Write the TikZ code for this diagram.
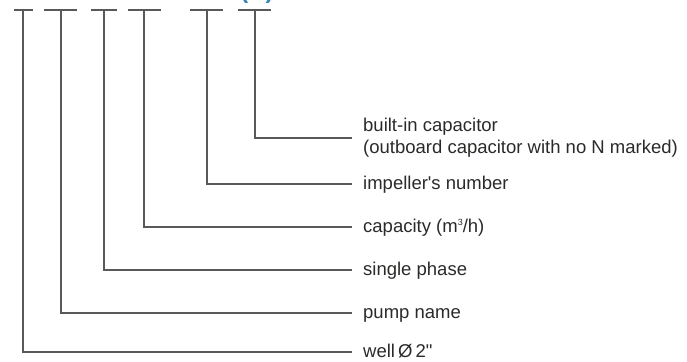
\documentclass[tikz,border=0pt]{standalone}
\usepackage{fontspec}
\setmainfont{Liberation Sans}[Ligatures=TeXOff]
\definecolor{linegray}{HTML}{5A5858}
\definecolor{textgray}{HTML}{2B2A29}
\definecolor{codeblue}{HTML}{3A86AE}
\newcommand{\smallsup}[1]{\raisebox{6.5bp}{\fontsize{9bp}{9bp}\selectfont #1}}
\tikzset{
        lbl/.style={anchor=west, inner xsep=11bp, inner ysep=0pt, text=textgray, font=\fontsize{18.5bp}{22bp}\selectfont, align=left},
        row/.style={lbl, text height=13bp, text depth=3bp},
        bar/.style={draw=linegray, line width=1.1bp},
        lead/.style={draw=linegray, line width=1.1bp}
    }

\begin{document}
\begin{tikzpicture}[x=1bp, y=-1bp]
            \useasboundingbox (0,0) rectangle (687,361);
            \clip (0,0) rectangle (687,361);
            \node [text=codeblue, font=\bfseries\fontsize{24bp}{24bp}\selectfont, anchor=base] (code) at (257,-2) {(N)};

            \coordinate (t1) at (23, 10);
            \coordinate (t2) at (61, 10);
            \coordinate (t3) at (104, 10);
            \coordinate (t4) at (144, 10);
            \coordinate (t5) at (207, 10);
            \coordinate (t6) at (255, 10);

            \draw [bar] (14, 10) -- (33, 10);
            \draw [bar] (44, 10) -- (77, 10);
            \draw [bar] (91, 10) -- (117, 10);
            \draw [bar] (128, 10) -- (161, 10);
            \draw [bar] (190, 10) -- (223, 10);
            \draw [bar] (238, 10) -- (271, 10);

            \node [lbl] (cap) at (352, 138) {built-in capacitor\\(outboard capacitor with no N marked)};
            \node [row] (imp) at (352, 184) {impeller's number};
            \node [row] (flow) at (352, 227) {capacity (m\smallsup{3}/h)};
            \node [row] (phase) at (352, 270) {single phase};
            \node [row] (name) at (352, 313) {pump name};
            \node [row] (well) at (352, 352) {well\,Ø\,2"};

            \draw [lead] (t6) |- (cap.west);
            \draw [lead] (t5) |- (imp.west);
            \draw [lead] (t4) |- (flow.west);
            \draw [lead] (t3) |- (phase.west);
            \draw [lead] (t2) |- (name.west);
            \draw [lead] (t1) |- (well.west);
        \end{tikzpicture}
\end{document}
